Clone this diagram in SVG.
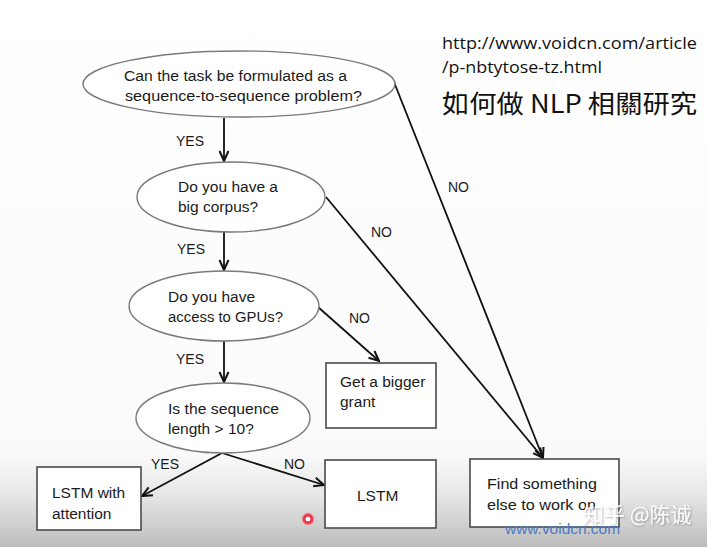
<svg xmlns="http://www.w3.org/2000/svg" width="707" height="547" viewBox="0 0 707 547">
<defs>
<linearGradient id="bg" x1="0" y1="0" x2="0" y2="1">
<stop offset="0" stop-color="#ffffff"/>
<stop offset="0.83" stop-color="#fafafa"/>
<stop offset="0.9" stop-color="#e8e8e8"/>
<stop offset="0.96" stop-color="#cfcfcf"/>
<stop offset="1" stop-color="#bbbbbb"/>
</linearGradient>
<radialGradient id="dot" cx="0.5" cy="0.5" r="0.5">
<stop offset="0" stop-color="#ffffff"/>
<stop offset="0.3" stop-color="#ffffff"/>
<stop offset="0.4" stop-color="#e8283c"/>
<stop offset="0.7" stop-color="#ee4a5a"/>
<stop offset="1" stop-color="#f8a0a8" stop-opacity="0"/>
</radialGradient>
<filter id="sh" x="-10%" y="-30%" width="120%" height="160%">
<feDropShadow dx="1" dy="1" stdDeviation="0.8" flood-color="#666" flood-opacity="0.6"/>
</filter>
<marker id="arr" viewBox="0 0 12 12" refX="11" refY="6" markerWidth="12" markerHeight="12" markerUnits="userSpaceOnUse" orient="auto">
<path d="M1,1.5 L11,6 L1,10.5" fill="none" stroke="#111" stroke-width="2"/>
</marker>
<style>
.el{fill:#fff;stroke:#7a7a7a;stroke-width:1.4}
.bx{fill:#fff;stroke:#4a4a4a;stroke-width:1.6}
.t{font-family:"Liberation Sans",Arial,sans-serif;font-size:15.5px;fill:#1a1a1a}
.lb{font-family:"Liberation Sans",Arial,sans-serif;font-size:14px;fill:#1a1a1a}
.hd{font-family:"Open Sans","Noto Sans","Noto Sans CJK TC",sans-serif;fill:#111}
.cjk{font-family:"Noto Sans CJK TC","Noto Sans CJK SC",sans-serif}
.ln{fill:none;stroke:#111;stroke-width:1.8;marker-end:url(#arr)}
</style>
</defs>
<rect x="0" y="0" width="707" height="547" fill="url(#bg)"/>

<g id="header">
<text class="hd" x="442" y="49" font-size="15.5" textLength="255" lengthAdjust="spacingAndGlyphs">http://www.voidcn.com/article</text>
<text class="hd" x="442" y="73" font-size="15.5" textLength="160" lengthAdjust="spacingAndGlyphs">/p-nbtytose-tz.html</text>
<text class="hd cjk" x="442" y="113" font-size="25" textLength="255" lengthAdjust="spacingAndGlyphs">如何做 NLP 相關研究</text>
</g>

<g id="connectors">
<line class="ln" x1="224" y1="118" x2="224" y2="161"/>
<line class="ln" x1="224" y1="232" x2="224" y2="270"/>
<line class="ln" x1="224" y1="341" x2="224" y2="382"/>
<line class="ln" x1="394" y1="82" x2="543" y2="458"/>
<line class="ln" x1="326" y1="197" x2="543" y2="458"/>
<line class="ln" x1="318" y1="307" x2="379" y2="361"/>
<line class="ln" x1="222" y1="453" x2="142" y2="496"/>
<line class="ln" x1="222" y1="453" x2="324" y2="485"/>
<text class="lb" x="176" y="146">YES</text>
<text class="lb" x="177" y="254">YES</text>
<text class="lb" x="176" y="364">YES</text>
<text class="lb" x="448" y="192">NO</text>
<text class="lb" x="371" y="237">NO</text>
<text class="lb" x="349" y="323">NO</text>
<text class="lb" x="151" y="469">YES</text>
<text class="lb" x="284" y="469">NO</text>
</g>

<g id="q1">
<ellipse class="el" cx="239" cy="84" rx="156" ry="33"/>
<text class="t" x="124" y="81" textLength="223" lengthAdjust="spacingAndGlyphs">Can the task be formulated as a</text>
<text class="t" x="125" y="101" textLength="237" lengthAdjust="spacingAndGlyphs">sequence-to-sequence problem?</text>
</g>

<g id="q2">
<ellipse class="el" cx="231" cy="197" rx="94" ry="35"/>
<text class="t" x="178" y="192">Do you have a</text>
<text class="t" x="178" y="212">big corpus?</text>
</g>

<g id="q3">
<ellipse class="el" cx="224" cy="306" rx="95" ry="35"/>
<text class="t" x="168" y="302">Do you have</text>
<text class="t" x="168" y="322" textLength="115" lengthAdjust="spacingAndGlyphs">access to GPUs?</text>
</g>

<g id="q4">
<ellipse class="el" cx="223" cy="418" rx="87" ry="35"/>
<text class="t" x="168" y="414" textLength="111" lengthAdjust="spacingAndGlyphs">Is the sequence</text>
<text class="t" x="168" y="434">length &gt; 10?</text>
</g>

<g id="grant">
<rect class="bx" x="326" y="363" width="110" height="65"/>
<text class="t" x="340" y="387">Get a bigger</text>
<text class="t" x="340" y="407">grant</text>
</g>

<g id="lstm-att">
<rect class="bx" x="37" y="467" width="104" height="63"/>
<text class="t" x="52" y="498">LSTM with</text>
<text class="t" x="52" y="519">attention</text>
</g>

<g id="lstm">
<rect class="bx" x="325" y="460" width="111" height="68"/>
<text class="t" x="357" y="501">LSTM</text>
</g>

<g id="other">
<rect class="bx" x="470" y="459" width="149" height="68"/>
<text class="t" x="487" y="489" textLength="110" lengthAdjust="spacingAndGlyphs">Find something</text>
<text class="t" x="487" y="510" textLength="109" lengthAdjust="spacingAndGlyphs">else to work on</text>
</g>

<g id="watermarks">
<text class="cjk" x="583" y="522" font-size="21" fill="#ffffff" opacity="0.9" filter="url(#sh)">知乎 @陈诚</text>
<text x="505" y="534" font-size="14" fill="#4a7cc0" textLength="115" lengthAdjust="spacingAndGlyphs" style="font-family:'Liberation Sans',Arial,sans-serif">www.voidcn.com</text>
<circle cx="308" cy="519" r="7" fill="url(#dot)"/>
</g>
</svg>
